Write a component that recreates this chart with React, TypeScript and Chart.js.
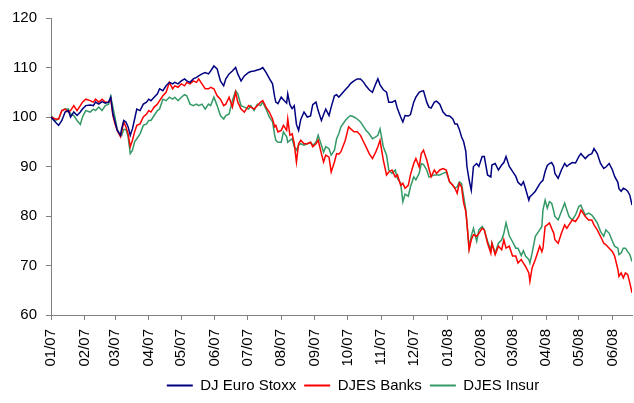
import { useEffect, useRef } from "react";
import { Chart, registerables } from "chart.js";
Chart.register(...registerables);

const FONT = "'Liberation Sans', Arial, sans-serif";

// month-start tick positions (days since 2007-01-01) and their labels
const tickDays = [0, 31, 59, 90, 120, 151, 181, 212, 243, 273, 304, 334, 365, 396, 425, 456, 486, 517];
const tickLabels = ["01/07", "02/07", "03/07", "04/07", "05/07", "06/07", "07/07", "08/07", "09/07", "10/07", "11/07", "12/07", "01/08", "02/08", "03/08", "04/08", "05/08", "06/08"];

const seriesNames = ["DJ Euro Stoxx", "DJES Banks", "DJES Insur"];

// observation dates (days since 2007-01-01)
const days = [
  0, 4, 7, 10, 13, 16, 18, 21, 24, 27, 29, 32, 36, 39, 41, 44, 47, 50, 53, 55, 57, 59, 61, 64, 65, 67, 69, 71, 73, 75, 77, 79, 82, 85, 88, 90,
  92, 95, 98, 100, 103, 106, 109, 112, 114, 117, 120, 123, 125, 128, 131, 134, 136, 139, 142, 145, 147, 150, 153, 156, 159, 161, 164, 167, 170, 172, 175, 178,
  182, 184, 187, 190, 193, 195, 198, 201, 204, 206, 207, 209, 212, 214, 217, 218, 220, 222, 224, 226, 228, 230, 233, 236, 239, 241, 244, 246, 249, 251, 253, 256, 258, 261, 263, 265, 267,
  271, 274, 276, 279, 282, 285, 288, 290, 293, 296, 299, 301, 303, 306, 309, 311, 314, 317, 319, 322, 324, 326, 329, 331, 334, 336, 339, 341, 343, 346, 348, 350, 353, 355,
  358, 361, 364, 367, 370, 372, 374, 376, 378, 380, 382, 383, 385, 387, 389, 392, 394, 397, 399, 402, 405, 406, 409, 412, 415, 417, 419, 422, 425, 428, 430, 433, 435, 437, 440, 441, 443, 446,
  450, 452, 453, 455, 457, 459, 461, 463, 464, 467, 470, 473, 475, 477, 480, 483, 486, 488, 489, 492, 495, 498, 500, 503, 506, 509, 511, 514, 517, 519, 522, 523, 525, 527, 529, 531, 533, 535,
];

const euroStoxx = [
  100, 99, 98.3, 99.3, 101, 101.3, 100, 101, 100.3, 101, 101.6, 102.3, 102.4, 102.3, 103, 102.6, 103.1, 102.8, 103, 104, 100.6, 99, 97.3, 96.3, 97.6, 99.3, 99, 98, 96.3, 97.6, 99.6, 101.6, 101.3, 102.6, 103, 103.6,
  103.3, 104, 104.7, 105.7, 105.3, 106.3, 107, 106.7, 107, 106.7, 107.3, 107.7, 107.3, 107, 107.7, 108, 108.3, 108.7, 109, 108.7, 109.3, 110.3, 109.7, 107.3, 106.3, 107.7, 108.7, 109.3, 110, 108.7, 107.3, 108.3,
  109, 109.2, 109.3, 109.5, 109.7, 110, 109, 107.8, 106.7, 104, 103, 102.7, 104, 103.5, 102.8, 104.7, 102.5, 101.7, 102.3, 98.5, 97.3, 99.5, 101, 100, 100.2, 102.5, 103, 101.3, 99.3, 100.5, 101.6, 100.3, 102, 104.3, 104.5, 104, 104.5,
  105.5, 106.2, 106.8, 107.3, 107.7, 107.7, 107, 106.3, 105.5, 105, 106.7, 107.7, 106.5, 105.5, 105, 103, 103, 103.3, 101.7, 100, 99, 100.3, 100.2, 100.5, 103, 104, 105, 105.2, 105.3, 103, 102, 101.8, 103, 103.2,
  102.6, 101, 100.3, 100.2, 99.6, 98.6, 98.6, 97.5, 96, 95, 93, 90, 87.3, 85.2, 90, 90.6, 90, 92, 92, 88.3, 87.9, 90.3, 90.6, 89.3, 90.3, 90.8, 92, 90, 89, 88, 86.8, 86.2, 86.9, 85.5, 83.2, 83.9, 84.3, 85,
  86.5, 87, 87.2, 89, 90.2, 90.6, 90.8, 90, 88.6, 87.6, 89.3, 90.6, 90, 90.4, 90.8, 90.7, 92, 92.6, 92.3, 91.6, 92.3, 92.6, 93.6, 92.6, 90.6, 89.6, 89.9, 90.6, 89.3, 88, 86.8, 85.5, 85, 85.6, 85.4, 85, 84.2, 82.2,
];

const banks = [
  100, 99.6, 99.6, 101.3, 101.6, 101, 101.3, 102.3, 101.3, 102.3, 103, 103.6, 103.3, 103, 103.6, 103, 103.6, 103, 103, 103.6, 100.3, 98.6, 97.3, 96, 97, 99, 98, 96.6, 94, 95.3, 97, 98.3, 98.6, 100, 100.6, 101.3,
  101, 102, 102.6, 103.3, 104.3, 105, 107, 105.7, 106.3, 106, 106.7, 106.3, 107, 106.7, 107.3, 107, 107.7, 106.7, 105.7, 105.7, 106, 105.7, 104.3, 103.6, 102.3, 102.6, 104, 102, 105, 103, 101.6, 101,
  102.3, 102, 101.6, 102.3, 103, 103.3, 102, 101, 99.6, 98, 98.3, 97, 97.3, 98.3, 97.3, 99.6, 96.3, 96.6, 94.6, 90.9, 94.6, 95.3, 94.6, 94.6, 94.9, 94, 94.6, 95.3, 92.6, 90.9, 92.3, 91.9, 88.9, 90.9, 92.6, 92.5, 93,
  95.3, 98, 97.6, 97, 97, 96.3, 94.9, 94, 92.6, 91.6, 92.9, 94, 95.3, 91.3, 88.3, 88.9, 89.3, 87.9, 88.3, 86.2, 86.6, 85.6, 86.2, 88.3, 90.6, 91.6, 89.9, 92.6, 93.3, 91.3, 89.6, 87.9, 89.3, 88.6,
  89.3, 89.6, 89.3, 86.9, 86.2, 85.6, 84.6, 86.6, 85.9, 82.6, 80.9, 78.6, 73.2, 75.2, 76.2, 75.9, 76.5, 77.5, 77.2, 74.5, 72.5, 74.5, 72.2, 73.9, 73.2, 75.2, 73.5, 73.9, 71.9, 71.9, 70.5, 71.2, 70.5, 69.8, 68.5, 66.8, 69.5, 71.2,
  73.9, 72.8, 73.5, 77.9, 78.2, 78.6, 77.5, 76.5, 75.2, 74.5, 76.5, 78.2, 77.5, 78.2, 79.2, 78.9, 79.9, 81.2, 80.9, 79.9, 79.2, 79.2, 78.2, 77.2, 75.9, 74.5, 74.2, 73.5, 72.8, 71.9, 69.2, 67.8, 68.5, 67.5, 68.5, 68.2, 66.5, 64.5,
];

const insur = [
  100.3, 99.3, 99.6, 101.3, 101.6, 101.6, 100.6, 100.3, 99.3, 98.5, 100, 101.3, 101, 101.6, 101.3, 102, 101.3, 102.3, 102.6, 104.2, 102, 99.8, 97.5, 96.2, 96.2, 97.5, 97.5, 96, 92.6, 93.3, 95, 95.6, 96.6, 98.3, 98.6, 99.3,
  99.3, 100.3, 101.3, 101.6, 103.6, 103.3, 104, 103.6, 104, 103.3, 104, 104.5, 104.3, 102.6, 102.3, 102.6, 102.3, 102.6, 101.6, 102.6, 102.3, 104, 102.3, 100.3, 99.6, 100.3, 100.6, 103.3, 105.3, 104.7, 102.3, 102,
  101.6, 102.3, 101.3, 102.6, 102.3, 103, 101.6, 100, 99, 96.3, 95.3, 94.9, 94.9, 97, 96, 94.9, 95.3, 95.6, 94, 93.3, 94.3, 94.6, 94.3, 94.6, 94.9, 94.3, 94.9, 96.3, 94.3, 92.9, 94, 93.6, 92.3, 93.3, 95.6, 96.6, 98,
  99.3, 100, 100.3, 100, 99.6, 99, 98, 97.3, 96.6, 95.6, 96, 96.3, 97.6, 94, 92.3, 89.3, 88.6, 89.3, 87.6, 86.6, 82.9, 84.4, 84, 85.9, 87.9, 87.3, 88.6, 90.6, 90.4, 89.3, 87.9, 88, 88.3, 88.3,
  88.3, 88.6, 88.9, 86.9, 86.2, 85.6, 85.9, 86.9, 86.6, 83.9, 81.2, 78.6, 73.5, 76, 77.5, 74.9, 77.2, 77.9, 77.2, 74.9, 73.2, 74.5, 72.5, 74.5, 75.2, 76.5, 78.6, 76, 74.8, 73.5, 73.5, 72, 73, 71.9, 71.2, 70.5, 72.5, 75.9,
  77.2, 77.9, 81.2, 83.2, 81.6, 82.9, 82.6, 80.9, 79.9, 79.2, 80.9, 82.6, 81.2, 79.9, 79.2, 80.2, 81.9, 82.2, 81.6, 80.2, 80.6, 80.2, 79.6, 78.6, 76.9, 75.9, 77.2, 76.5, 74.9, 73.9, 73.5, 72.2, 72.5, 73.5, 73.5, 72.8, 72.2, 70.8,
];

const colors = ["#000080", "#FF0000", "#339966"];

// shifts the legend horizontally so it sits where the reference places it
const legendShift = {
  id: "legendShift",
  afterLayout(chart: any) {
    const lg = chart.legend;
    if (lg) {
      lg.left += 37;
      lg.right += 37;
    }
  },
};

export default function App() {
  const ref = useRef<HTMLCanvasElement>(null);
  useEffect(() => {
    if (!ref.current) return;
    const pts = (vals: number[]) => vals.map((v, i) => ({ x: days[i], y: v }));
    const series = [euroStoxx, banks, insur];
    const axisColor = "#808080";
    const chart = new Chart(ref.current, {
      type: "line",
      data: {
        datasets: series.map((s, i) => ({
          label: seriesNames[i],
          data: pts(s),
          borderColor: colors[i],
          backgroundColor: colors[i],
          borderWidth: 1.5,
          pointRadius: 0,
          tension: 0,
          fill: false,
        })),
      },
      plugins: [legendShift],
      options: {
        animation: false,
        responsive: true,
        maintainAspectRatio: false,
        layout: { padding: { top: 17, right: 2, left: 0, bottom: 0 } },
        plugins: {
          legend: {
            position: "bottom",
            labels: {
              boxWidth: 26,
              boxHeight: 2,
              padding: 8,
              color: "#000",
              font: { family: FONT, size: 15 },
              generateLabels: (c: any) =>
                (Chart.defaults.plugins.legend.labels.generateLabels as any)(c).map((l: any) => ({
                  ...l,
                  lineWidth: 0,
                  fillStyle: l.strokeStyle,
                })),
            },
          },
          tooltip: { enabled: false },
        },
        scales: {
          x: {
            type: "linear",
            min: 0,
            max: days[days.length - 1],
            afterBuildTicks: (s: any) => {
              s.ticks = tickDays.map((v) => ({ value: v }));
            },
            afterFit: (s: any) => {
              s.height = 55;
              s.paddingRight = 0;
              s.paddingLeft = 0;
            },
            ticks: {
              autoSkip: false,
              maxRotation: 90,
              minRotation: 90,
              padding: 9,
              color: "#000",
              font: { family: FONT, size: 15 },
              callback: (_v: any, i: number) => tickLabels[i] ?? "",
            },
            grid: { drawOnChartArea: false, drawTicks: true, tickLength: 5, color: axisColor },
            border: { display: true, color: axisColor, width: 1 },
          },
          y: {
            min: 60,
            max: 120,
            afterFit: (s: any) => {
              s.width = 51;
            },
            ticks: {
              stepSize: 10,
              padding: 9,
              color: "#000",
              font: { family: FONT, size: 15 },
            },
            grid: { drawOnChartArea: false, drawTicks: true, tickLength: 5, color: axisColor },
            border: { display: true, color: axisColor, width: 1 },
          },
        },
      },
    } as any);
    return () => chart.destroy();
  }, []);
  return (
    <div style={{ position: "fixed", left: 0, top: 0, width: 634, height: 403, background: "#fff" }}>
      <canvas ref={ref} />
    </div>
  );
}
